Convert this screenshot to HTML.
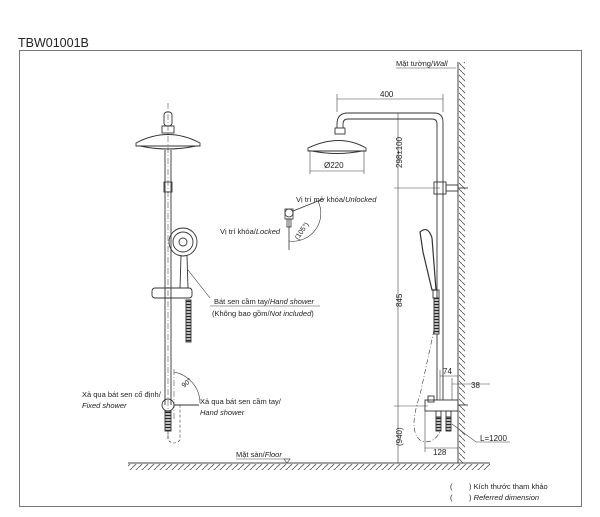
<!DOCTYPE html>
<html><head><meta charset="utf-8"><style>
html,body{margin:0;padding:0;background:#fff;width:600px;height:517px;overflow:hidden}
svg{display:block}
text{font-family:"Liberation Sans",sans-serif;fill:#222}
.it{font-style:italic}
</style></head><body>
<svg width="600" height="517" viewBox="0 0 600 517" xmlns="http://www.w3.org/2000/svg">
<defs>
<pattern id="hat" width="6" height="6" patternUnits="userSpaceOnUse"><line x1="0" y1="6" x2="6" y2="0" stroke="#555" stroke-width="0.8"/></pattern>
<pattern id="hatv" width="6" height="6" patternUnits="userSpaceOnUse"><line x1="0" y1="0" x2="6" y2="6" stroke="#555" stroke-width="0.8"/></pattern>
<pattern id="hose" width="3" height="3" patternUnits="userSpaceOnUse"><rect width="3" height="3" fill="#fff"/><line x1="0" y1="1.5" x2="3" y2="1.5" stroke="#222" stroke-width="1.6"/></pattern>
</defs>
<text x="18" y="47" font-size="12.5">TBW01001B</text>
<rect x="19.5" y="50.5" width="562" height="456" fill="none" stroke="#777" stroke-width="1"/>

<line x1="128" y1="463" x2="490" y2="463" stroke="#444" stroke-width="1"/>
<rect x="128" y="464" width="362" height="6" fill="url(#hat)"/>
<text x="236" y="457" font-size="7.5">Mặt sàn/<tspan class="it">Floor</tspan></text>
<line x1="236" y1="459" x2="290" y2="459" stroke="#444" stroke-width="0.6"/>
<path d="M284 459 L290 459 L287 463 Z" fill="none" stroke="#444" stroke-width="0.6"/>

<line x1="458" y1="62" x2="458" y2="463" stroke="#444" stroke-width="1"/>
<rect x="459" y="62" width="6" height="401" fill="url(#hatv)"/>
<text x="396" y="66" font-size="7.5">Mặt tường/<tspan class="it">Wall</tspan></text>
<line x1="396" y1="68" x2="456" y2="68" stroke="#444" stroke-width="0.6"/>

<g stroke="#333" fill="none" stroke-width="0.9">
<line x1="168" y1="103" x2="168" y2="440" stroke-dasharray="6,2,1,2" stroke-width="0.5"/>
<rect x="164" y="112" width="8" height="14" rx="3"/>
<rect x="162" y="126" width="12" height="7"/>
<path d="M136 143 Q168 126 200 143 L200 146 L136 146 Z"/>
<path d="M140 146 Q168 152 196 146"/>
<line x1="165" y1="150" x2="165" y2="405"/><line x1="171" y1="150" x2="171" y2="405"/>
<rect x="164" y="182" width="8" height="10"/>
<circle cx="183" cy="242" r="14"/><circle cx="183" cy="242" r="10"/><circle cx="183" cy="242" r="4"/>
<path d="M181 256 L180 288 L188 288 L187 256"/>
<rect x="152" y="288" width="40" height="10" rx="3"/>
<rect x="186" y="300" width="5" height="42" fill="url(#hose)"/>
<line x1="188" y1="270" x2="210" y2="298" stroke-width="0.6"/>
<line x1="174" y1="369" x2="174" y2="420" stroke-dasharray="6,2,1,2" stroke-width="0.5"/>
<circle cx="168" cy="405" r="6"/>
<line x1="174" y1="405" x2="199" y2="405"/>
<path d="M174 372 A32 32 0 0 1 200 403" stroke-width="0.6"/>
<rect x="165" y="411" width="6" height="20" fill="url(#hose)"/>
<path d="M168 431 L168 440 Q174 446 180 440 L180 405" stroke-dasharray="3,2" stroke-width="0.6"/>
</g>
<text x="184" y="388" font-size="7" transform="rotate(-40 184 388)">90°</text>
<text x="214" y="304" font-size="7.5">Bát sen cầm tay/<tspan class="it">Hand shower</tspan></text>
<line x1="210" y1="306" x2="320" y2="306" stroke="#444" stroke-width="0.6"/>
<text x="212" y="316" font-size="7.5">(Không bao gồm/<tspan class="it">Not included</tspan>)</text>
<text x="82" y="397" font-size="7.5">Xả qua bát sen cố định/</text>
<text x="82" y="408" font-size="7.5" class="it">Fixed shower</text>
<text x="200" y="404" font-size="7.5">Xả qua bát sen cầm tay/</text>
<text x="200" y="415" font-size="7.5" class="it">Hand shower</text>

<g stroke="#333" fill="none" stroke-width="0.8">
<rect x="285" y="209" width="8" height="10"/>
<circle cx="289" cy="213" r="4"/>
<rect x="287" y="219" width="4" height="8"/>
<line x1="289" y1="219" x2="289" y2="250"/>
<line x1="293" y1="211" x2="323" y2="199"/>
<path d="M289 241 A28 28 0 0 0 318 201" stroke-width="0.6"/>
</g>
<text x="296" y="202" font-size="7.5">Vị trí mở khóa/<tspan class="it">Unlocked</tspan></text>
<text x="220" y="234" font-size="7.5">Vị trí khóa/<tspan class="it">Locked</tspan></text>
<text x="298" y="240" font-size="7" transform="rotate(-55 298 240)">(105°)</text>

<g stroke="#333" fill="none" stroke-width="0.9">
<path d="M337 128 L337 124 Q337 113 348 113 L434 113 Q443 113 443 122 L443 400"/>
<path d="M343 128 L343 124 Q343 119 348 119 L432 119 Q437 119 437 124 L437 400"/>
<rect x="335" y="128" width="10" height="6"/>
<path d="M308 148 Q340 133 366 148 L366 151 L308 151 Z"/>
<path d="M312 151 Q337 156 362 151"/>
<rect x="434" y="182" width="12" height="12"/>
<rect x="446" y="185" width="12" height="6"/>
<line x1="458" y1="188" x2="468" y2="188"/>
<path d="M420 232 Q428 225 432 238 L436 290 L432 290 L423 252 Z" stroke-width="1.2"/>
<rect x="433" y="290" width="6" height="8"/>
<rect x="434" y="298" width="5" height="36" fill="url(#hose)"/>
<path d="M434 330 L420 395 Q408 430 420 440 Q432 446 440 432" stroke-dasharray="5,2,1,2" stroke-width="0.6"/>
<rect x="425" y="400" width="33" height="11"/>
<rect x="428" y="396" width="6" height="6"/>
<line x1="458" y1="405" x2="468" y2="405"/>
<rect x="436" y="411" width="5" height="6"/>
<rect x="436" y="417" width="5" height="14" fill="url(#hose)"/>
<rect x="446" y="411" width="5" height="6"/>
<rect x="446" y="417" width="5" height="14" fill="url(#hose)"/>
</g>
<g stroke="#444" stroke-width="0.6" fill="none">
<line x1="337" y1="99" x2="443" y2="99"/><line x1="337" y1="94" x2="337" y2="112"/><line x1="443" y1="94" x2="443" y2="112"/>
<line x1="310" y1="171" x2="364" y2="171"/><line x1="310" y1="150" x2="310" y2="174"/><line x1="364" y1="150" x2="364" y2="174"/>
<line x1="398" y1="113" x2="398" y2="463"/>
<line x1="394" y1="188" x2="440" y2="188"/><line x1="394" y1="406" x2="428" y2="406"/>
<line x1="440" y1="376" x2="458" y2="376"/><line x1="440" y1="370" x2="440" y2="400"/>
<line x1="452" y1="384" x2="490" y2="384"/><line x1="452" y1="378" x2="452" y2="400"/>
<line x1="425" y1="448" x2="458" y2="448"/><line x1="425" y1="411" x2="425" y2="452"/>
<path d="M452 424 L476 442 L510 442"/>
</g>
<text x="380" y="97" font-size="8">400</text>
<text x="324" y="168" font-size="8">Ø220</text>
<text x="402" y="168" font-size="8" transform="rotate(-90 402 168)">298±100</text>
<text x="402" y="307" font-size="8" transform="rotate(-90 402 307)">845</text>
<text x="402" y="446" font-size="8" transform="rotate(-90 402 446)">(940)</text>
<text x="443" y="374" font-size="8">74</text>
<text x="471" y="388" font-size="8">38</text>
<text x="480" y="441" font-size="8">L=1200</text>
<text x="433" y="455" font-size="8">128</text>

<text x="450" y="489" font-size="7.5">(</text><text x="469" y="489" font-size="7.5">) Kích thước tham khảo</text>
<text x="450" y="500" font-size="7.5">(</text><text x="469" y="500" font-size="7.5">) <tspan class="it">Referred dimension</tspan></text>
</svg>
</body></html>
